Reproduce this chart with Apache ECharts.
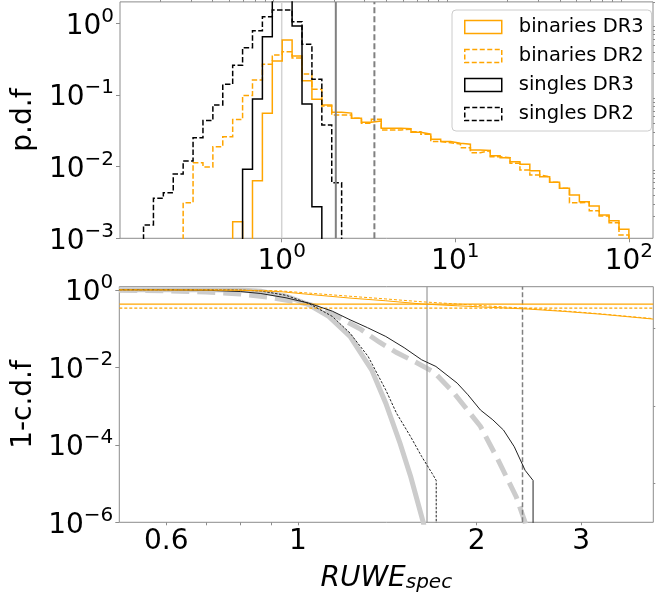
<!DOCTYPE html>
<html><head><meta charset="utf-8">
<script src="https://cdn.jsdelivr.net/npm/echarts@6/dist/echarts.min.js"></script>
<style>html,body{margin:0;padding:0;background:#fff}#c{width:657px;height:603px}</style>
</head><body><div id="c"></div>
<script>
// ---------- histogram binning (log-spaced bins) ----------
const BIN_LO = 0.16, BIN_HI = 100, N_BINS = 49;

// ---------- top panel: p.d.f histograms (first bin index + values) ----------
const binariesDR3Start = 9;
const binariesDR3 = [0.0017, 0.0001, 0.00637, 0.0557, 0.30, 0.589, 0.352, 0.159, 0.0873, 0.0727,
  0.0575, 0.0560, 0.0474, 0.0417, 0.0435, 0.0344, 0.0344, 0.0340, 0.0302, 0.0284,
  0.0242, 0.0224, 0.0212, 0.0206, 0.0171, 0.0168, 0.01426, 0.01337, 0.01175, 0.0108,
  0.0088, 0.00725, 0.00605, 0.00499, 0.00402, 0.00324, 0.00282, 0.00212, 0.00176, 0.00134];
const binariesDR2Start = 4;
const binariesDR2 = [0.00314, 0.01137, 0.0099, 0.0190, 0.0262, 0.0456, 0.0987, 0.1626, 0.269, 0.363,
  0.404, 0.33, 0.197, 0.1205, 0.0705, 0.0527, 0.0527, 0.0474, 0.0404, 0.0459,
  0.0326, 0.0326, 0.0333, 0.0308, 0.0284, 0.0224, 0.0216, 0.0207, 0.0184, 0.0157,
  0.0167, 0.0138, 0.01337, 0.01114, 0.0090, 0.00766, 0.00725, 0.00605, 0.00499, 0.00314,
  0.00318, 0.00243, 0.00205, 0.00165, 0.00111];
const singlesDR3Start = 10;
const singlesDR3 = [0.0092, 0.0883, 0.654, 2.4, 2.4, 0.923, 0.0751, 0.00276];
const singlesDR2Start = 0;
const singlesDR2 = [0.00153, 0.00362, 0.00434, 0.0079, 0.0120, 0.0254, 0.0440, 0.0728, 0.1416, 0.261,
  0.459, 0.794, 1.245, 1.545, 1.545, 1.059, 0.512, 0.166, 0.0382, 0.00598];
const topRefLine = 1;
const topThreshDR3 = 2.05;
const topThreshDR2 = 3.42;

// ---------- bottom panel: 1-c.d.f curves ----------
const gaussNarrowX = [0.5, 0.6, 0.7, 0.8, 0.866, 0.955, 1.044, 1.127, 1.224, 1.331, 1.406, 1.486, 1.549, 1.626, 1.66];
const gaussNarrowY = [1.0, 1.0, 0.998, 0.985, 0.92, 0.68, 0.41, 0.205, 0.0624, 0.0086, 0.00118, 0.00011, 0.000015, 0.000001, 0.0000002];
const gaussWideX = [0.5, 0.6, 0.7, 0.8, 0.9, 1.0, 1.044, 1.096, 1.19, 1.277, 1.37, 1.466, 1.58, 1.695, 1.83, 2.03, 2.175, 2.333, 2.414, 2.45];
const gaussWideY = [0.97, 0.94, 0.88, 0.78, 0.63, 0.48, 0.42, 0.34, 0.17, 0.095, 0.045, 0.024, 0.0135, 0.0075, 0.0022, 0.0003, 0.00004, 0.0000045, 0.000001, 0.0000004];
const singlesDR3cdfX = [0.5, 0.6, 0.704, 0.8, 0.866, 0.955, 1.044, 1.143, 1.224, 1.31, 1.406, 1.51, 1.616, 1.708, 1.855, 1.934, 2.03, 2.13, 2.22, 2.315, 2.414, 2.49, 2.49];
const singlesDR3cdfY = [1.0, 0.995, 0.97, 0.9, 0.8, 0.62, 0.45, 0.28, 0.168, 0.105, 0.0624, 0.032, 0.0156, 0.0105, 0.0039, 0.00195, 0.00079, 0.00044, 0.00024, 0.000089, 0.000022, 0.000012, 1e-8];
const singlesDR2cdfX = [0.5, 0.7, 0.8, 0.866, 0.955, 1.044, 1.143, 1.224, 1.313, 1.406, 1.466, 1.549, 1.616, 1.684, 1.71, 1.71];
const singlesDR2cdfY = [1.0, 0.998, 0.985, 0.93, 0.72, 0.44, 0.205, 0.076, 0.019, 0.0026, 0.00065, 0.00016, 0.00005, 0.000018, 0.000012, 1e-8];
const binariesCdfX = [0.5, 0.7, 0.8, 0.93, 1.044, 1.224, 1.406, 1.616, 1.855, 2.13, 2.447, 2.81, 3.23, 3.97];
const binariesDR3cdfY = [0.99, 0.985, 0.97, 0.90, 0.76, 0.61, 0.52, 0.43, 0.386, 0.35, 0.317, 0.276, 0.235, 0.175];
const binariesDR2cdfY = [1.0, 0.995, 0.985, 0.94, 0.82, 0.68, 0.58, 0.49, 0.43, 0.375, 0.33, 0.285, 0.24, 0.18];
const levelDR3 = 0.427;
const levelDR2 = 0.337;
const botThreshDR3 = 1.65;
const botThreshDR2 = 2.39;

// ---------- axes ticks ----------
const topXMajor = [1, 10, 100];
const topXMinor = [0.2, 0.3, 0.4, 0.5, 0.6, 0.7, 0.8, 0.9, 2, 3, 4, 5, 6, 7, 8, 9, 20, 30, 40, 50, 60, 70, 80, 90];
const topYMajor = [0.001, 0.01, 0.1, 1];
const topYMinor = [0.002, 0.003, 0.004, 0.005, 0.006, 0.007, 0.008, 0.009, 0.02, 0.03, 0.04, 0.05, 0.06, 0.07, 0.08, 0.09, 0.2, 0.3, 0.4, 0.5, 0.6, 0.7, 0.8, 0.9, 2];
const botXTicks = [0.6, 0.7, 0.8, 0.9, 1, 2, 3];
const botXLabels = [0.6, 1, 2, 3];
const botYMajor = [0.000001, 0.0001, 0.01, 1];
const botYMinor = [0.00001, 0.001, 0.1];

// ---------- helpers ----------
const FONT = 'DejaVu Sans';
const ORANGE = '#ffa500';
const AX = '#8c8c8c';
const lg = Math.log10(BIN_LO), hg = Math.log10(BIN_HI);
const EDGES = [];
for (let k = 0; k <= N_BINS; k++) EDGES.push(Math.pow(10, lg + (hg - lg) * k / N_BINS));
const FLOOR = 1e-6;
function stepData(start, vals) {
  const d = [[EDGES[start], FLOOR]];
  vals.forEach((v, i) => { d.push([EDGES[start + i], v]); d.push([EDGES[start + i + 1], v]); });
  d.push([EDGES[start + vals.length], FLOOR]);
  return d;
}
function zip(xs, ys) { return xs.map((x, i) => [x, ys[i]]); }
function pow10(v) {
  const e = Math.round(Math.log10(v));
  return '{b|10}{s|' + (e < 0 ? '\u2212' + (-e) : e) + '}';
}
const powRich = {
  b: { fontSize: 28, lineHeight: 34, verticalAlign: 'bottom', fontFamily: FONT, color: '#000' },
  s: { fontSize: 20, lineHeight: 14, verticalAlign: 'top', fontFamily: FONT, color: '#000' }
};
function tidy(v) { return String(Number(v.toPrecision(6))); }

const topXR = [0.1171, 137.7];
const topYR = [0.001, 2];
const botXR = [0.5, 3.97];
const botYR = [0.000001, 1.2];

function line(name, data, xi, yi, color, width, type, z) {
  return { name, type: 'line', xAxisIndex: xi, yAxisIndex: yi, data, showSymbol: false, symbol: 'none',
    clip: true, silent: true, z: z || 2, color,
    lineStyle: { color, width, type: type || 'solid', cap: 'butt', join: 'miter' } };
}
function vline(name, x, yr, xi, yi, color, width, type, z) {
  return line(name, [[x, yr[0]], [x, yr[1]]], xi, yi, color, width, type, z);
}
function hline(name, y, xr, xi, yi, color, width, type, z) {
  return line(name, [[xr[0], y], [xr[1], y]], xi, yi, color, width, type, z);
}

const chart = echarts.init(document.getElementById('c'), null, { renderer: 'canvas' });
const option = {
  animation: false,
  backgroundColor: '#fff',
  textStyle: { fontFamily: FONT },
  grid: [
    { left: 120, top: 1.9, width: 533, height: 236.4, show: true, borderColor: AX, borderWidth: 1, backgroundColor: 'transparent' },
    { left: 119.3, top: 286.7, width: 534, height: 235.6, show: true, borderColor: AX, borderWidth: 1, backgroundColor: 'transparent' }
  ],
  xAxis: [
    { type: 'log', gridIndex: 0, min: topXR[0], max: topXR[1], logBase: 10,
      axisLine: { show: false }, splitLine: { show: false },
      axisTick: { show: true, customValues: topXMajor, length: 4, lineStyle: { color: AX } },
      axisLabel: { customValues: topXMajor, formatter: pow10, rich: powRich, margin: 3 } },
    { type: 'log', gridIndex: 0, min: topXR[0], max: topXR[1], logBase: 10,
      axisLine: { show: false }, splitLine: { show: false },
      axisTick: { show: true, customValues: topXMinor, length: 2, lineStyle: { color: AX } },
      axisLabel: { show: false } },
    { type: 'log', gridIndex: 1, min: botXR[0], max: botXR[1], logBase: 10,
      axisLine: { show: false }, splitLine: { show: false },
      axisTick: { show: true, customValues: botXTicks, length: 3, lineStyle: { color: AX } },
      axisLabel: { customValues: botXLabels, formatter: tidy, fontSize: 28, fontFamily: FONT, color: '#000', margin: 5 },
      name: '{i|RUWE}{sub|spec}', nameLocation: 'middle', nameGap: 36,
      nameTextStyle: { rich: {
        i: { fontSize: 28, fontStyle: 'italic', fontFamily: FONT, color: '#000', lineHeight: 34, verticalAlign: 'bottom' },
        sub: { fontSize: 20, fontStyle: 'italic', fontFamily: FONT, color: '#000', lineHeight: 24, verticalAlign: 'bottom' } } } }
  ],
  yAxis: [
    { type: 'log', gridIndex: 0, min: topYR[0], max: topYR[1], logBase: 10,
      axisLine: { show: false }, splitLine: { show: false },
      axisTick: { show: true, customValues: topYMajor, length: 4, lineStyle: { color: AX } },
      axisLabel: { customValues: topYMajor, formatter: pow10, rich: powRich, margin: 6 },
      name: 'p.d.f', nameLocation: 'middle', nameGap: 76,
      nameTextStyle: { fontSize: 28, fontFamily: FONT, color: '#000' } },
    { type: 'log', gridIndex: 0, min: topYR[0], max: topYR[1], logBase: 10,
      axisLine: { show: false }, splitLine: { show: false },
      axisTick: { show: true, customValues: topYMinor, length: 2, lineStyle: { color: AX } },
      axisLabel: { show: false } },
    { type: 'log', gridIndex: 1, min: botYR[0], max: botYR[1], logBase: 10,
      axisLine: { show: false }, splitLine: { show: false },
      axisTick: { show: true, customValues: botYMajor, length: 4, lineStyle: { color: AX } },
      axisLabel: { customValues: botYMajor, formatter: pow10, rich: powRich, margin: 6 },
      name: '1-c.d.f', nameLocation: 'middle', nameGap: 76,
      nameTextStyle: { fontSize: 28, fontFamily: FONT, color: '#000' } },
    { type: 'log', gridIndex: 1, min: botYR[0], max: botYR[1], logBase: 10,
      axisLine: { show: false }, splitLine: { show: false },
      axisTick: { show: true, customValues: botYMinor, length: 2, lineStyle: { color: AX } },
      axisLabel: { show: false } }
  ],
  legend: {
    orient: 'vertical', left: 452, top: 10, padding: [6, 8, 6, 12],
    itemWidth: 37, itemHeight: 13, itemGap: 7,
    backgroundColor: 'rgba(255,255,255,0.85)', borderColor: '#cccccc', borderWidth: 1, borderRadius: 4,
    textStyle: { fontSize: 19.5, fontFamily: FONT, color: '#000', lineHeight: 22, padding: [0, 0, 0, 12] },
    selectedMode: false,
    data: [
      { name: 'binaries DR3', icon: 'rect', itemStyle: { color: 'rgba(0,0,0,0)', borderColor: ORANGE, borderWidth: 1.5, borderType: 'solid' } },
      { name: 'binaries DR2', icon: 'rect', itemStyle: { color: 'rgba(0,0,0,0)', borderColor: ORANGE, borderWidth: 1.5, borderType: [5, 2.5] } },
      { name: 'singles DR3', icon: 'rect', itemStyle: { color: 'rgba(0,0,0,0)', borderColor: '#000', borderWidth: 1.5, borderType: 'solid' } },
      { name: 'singles DR2', icon: 'rect', itemStyle: { color: 'rgba(0,0,0,0)', borderColor: '#000', borderWidth: 1.5, borderType: [5, 2.5] } }
    ]
  },
  series: [
    // top panel
    vline('ref1', topRefLine, topYR, 0, 0, '#d3d3d3', 1.5, 'solid', 1),
    line('binaries DR3', stepData(binariesDR3Start, binariesDR3), 0, 0, ORANGE, 1.5, 'solid', 3),
    line('binaries DR2', stepData(binariesDR2Start, binariesDR2), 0, 0, ORANGE, 1.5, [5.5, 2.4], 3),
    line('singles DR3', stepData(singlesDR3Start, singlesDR3), 0, 0, '#000', 1.5, 'solid', 3),
    line('singles DR2', stepData(singlesDR2Start, singlesDR2), 0, 0, '#000', 1.5, [5.5, 2.4], 3),
    vline('thrTop3', topThreshDR3, topYR, 0, 0, '#808080', 2, 'solid', 4),
    vline('thrTop2', topThreshDR2, topYR, 0, 0, '#808080', 2, [6, 3], 4),
    // bottom panel
    line('gaussNarrow', zip(gaussNarrowX, gaussNarrowY), 2, 2, '#cccccc', 5, 'solid', 1),
    line('gaussWide', zip(gaussWideX, gaussWideY), 2, 2, '#cccccc', 5, [18, 8], 1),
    vline('thrBot3', botThreshDR3, botYR, 2, 2, '#999999', 1.2, 'solid', 2),
    vline('thrBot2', botThreshDR2, botYR, 2, 2, '#808080', 1.5, [5, 2.5], 2),
    hline('lvl3', levelDR3, botXR, 2, 2, ORANGE, 1.2, 'solid', 2),
    hline('lvl2', levelDR2, botXR, 2, 2, ORANGE, 1.2, [3, 2], 2),
    line('singles DR3 cdf', zip(singlesDR3cdfX, singlesDR3cdfY), 2, 2, '#222', 1, 'solid', 3),
    line('singles DR2 cdf', zip(singlesDR2cdfX, singlesDR2cdfY), 2, 2, '#222', 1, [2.5, 1.5], 3),
    line('binaries DR3 cdf', zip(binariesCdfX, binariesDR3cdfY), 2, 2, ORANGE, 1, 'solid', 3),
    line('binaries DR2 cdf', zip(binariesCdfX, binariesDR2cdfY), 2, 2, ORANGE, 1, [3, 2], 3)
  ]
};
chart.setOption(option);
</script></body></html>
